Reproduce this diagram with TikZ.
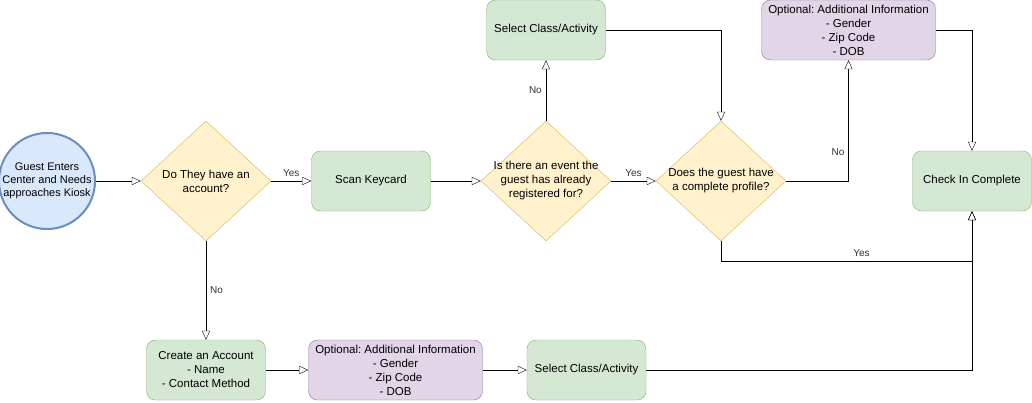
\documentclass[tikz,border=0pt]{standalone}
\usepackage{fontspec}
\setmainfont{Liberation Sans}
\frenchspacing
\usetikzlibrary{shapes.geometric, positioning, arrows.meta}
\definecolor{startfill}{HTML}{DAE8FC}
\definecolor{startline}{HTML}{6C8EBF}
\definecolor{askfill}{HTML}{FFF2CC}
\definecolor{askline}{HTML}{D6B656}
\definecolor{stepfill}{HTML}{D5E8D4}
\definecolor{stepline}{HTML}{82B366}
\definecolor{infofill}{HTML}{E1D5E7}
\definecolor{infoline}{HTML}{9673A6}
\tikzset{
->, % every connector is directed
>={Triangle[open, length=9pt, width=8pt]}, % hollow heads as in the flowchart
node distance=175pt, % centre to centre, shifted where needed
every node/.style={font=\fontsize{11.5}{14}\selectfont},
guest/.style={circle, draw=startline, fill=startfill, line width=2pt, minimum size=89pt, inner sep=0pt, align=center, font=\fontsize{11}{13}\selectfont},
ask/.style={diamond, draw=askline, fill=askfill, minimum width=130pt, minimum height=120pt, inner sep=0pt},
stepbox/.style={rectangle, rounded corners=9pt, draw=stepline, fill=stepfill, minimum width=119pt, minimum height=60pt, align=center},
infobox/.style={stepbox, draw=infoline, fill=infofill, minimum width=174pt},
edgelabel/.style={font=\fontsize{10}{12}\selectfont, text=black!80, inner sep=4pt},
}

\begin{document}
\begin{tikzpicture}[x=1pt, y=-1pt]
    \useasboundingbox (0,0) rectangle (1032,402);

    \node[guest] (start) at (47,181) {Guest Enters\\Center and Needs\\approaches Kiosk};
    \node[ask, right of=start, xshift=-16pt, label={[align=center]center:Do They have an\\account?}] (hasacct) {};
    \node[stepbox, right of=hasacct, xshift=-10pt] (scan) {Scan Keycard};
    \node[ask, right of=scan, label={[align=center]center:Is there an event the\\guest has already\\registered for?}] (hasevent) {};
    \node[stepbox, above of=hasevent, yshift=-24pt] (pickA) {Select Class/Activity};
    \node[ask, right of=hasevent, label={[align=center]center:Does the guest have\\a complete profile?}] (hasprofile) {};
    \node[infobox, above of=hasprofile, xshift=127.5pt, yshift=-24pt] (extraA) {Optional: Additional Information\\- Gender\\- Zip Code\\- DOB};
    \node[stepbox, right of=hasprofile, xshift=76pt] (done) {Check In Complete};
    \node[stepbox, below of=hasacct, yshift=-14pt] (create) {Create an Account\\- Name\\- Contact Method};
    \node[infobox, right of=create, xshift=14.5pt] (extraB) {Optional: Additional Information\\- Gender\\- Zip Code\\- DOB};
    \node[stepbox, right of=extraB, xshift=16pt] (pickB) {Select Class/Activity};
    \coordinate[below of=done, node distance=80pt] (yesjoin);

    \draw (start) -- (hasacct);
    \draw (hasacct) -- node[edgelabel, above] {Yes} (scan);
    \draw (hasacct) -- node[edgelabel, right] {No} (create);
    \draw (scan) -- (hasevent);
    \draw (hasevent) -- node[edgelabel, left] {No} (pickA);
    \draw (hasevent) -- node[edgelabel, above] {Yes} (hasprofile);
    \draw (pickA) -| (hasprofile);
    \draw (hasprofile) -| node[edgelabel, left, pos=0.62] {No} (extraA);
    \draw (extraA) -| (done);
    \draw (hasprofile) |- node[edgelabel, above, pos=0.78] {Yes} (yesjoin) -- (done);
    \draw (create) -- (extraB);
    \draw (extraB) -- (pickB);
    \draw (pickB) -| (done);
\end{tikzpicture}
\end{document}
